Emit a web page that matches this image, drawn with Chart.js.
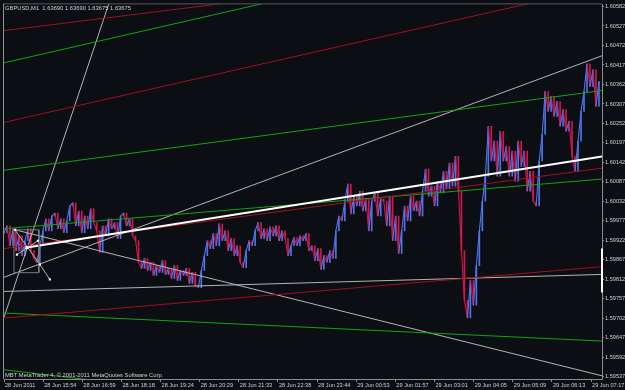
<!DOCTYPE html>
<html><head><meta charset="utf-8">
<script src="https://cdn.jsdelivr.net/npm/chart.js@4/dist/chart.umd.min.js"></script>
<style>html,body{margin:0;padding:0;background:#0b0e13;}canvas{display:block;}</style>
</head><body>
<canvas id="c" width="625" height="390"></canvas>
<script>
const symbolTitle = 'GBPUSD,M1  1.63690 1.63690 1.63675 1.63675';
const footerText = 'MBT MetaTrader 4, \u00A9 2001-2011 MetaQuotes Software Corp.';
const timeLabels = ['28 Jun 2011','28 Jun 15:54','28 Jun 16:59','28 Jun 18:18','28 Jun 19:24','28 Jun 20:29','28 Jun 21:33','28 Jun 22:38','28 Jun 23:44','29 Jun 00:53','29 Jun 01:57','29 Jun 03:01','29 Jun 04:05','29 Jun 05:09','29 Jun 06:13','29 Jun 07:17'];
const priceTicks = [1.59537,1.59592,1.59647,1.59702,1.59757,1.59812,1.59867,1.59922,1.59977,1.60032,1.60087,1.60142,1.60197,1.60252,1.60307,1.60362,1.60417,1.60472,1.60527,1.60582];
const X_MAX = 15.28;
const PRICE_MIN = 1.59531, PRICE_MAX = 1.60588;
const barsPerLabel = 13.09;
const closes = [
1.59944,1.59963,1.59907,1.59955,1.59893,1.59935,1.59879,1.59921,1.59955,1.59893,
1.59871,1.59860,1.59907,1.59949,1.59983,1.59949,1.59991,1.59999,1.59955,1.59983,
1.59944,1.59977,1.60019,1.60028,1.59963,1.60005,1.59944,1.59991,1.59955,1.60011,
1.59972,1.59949,1.59888,1.59963,1.59935,1.59983,1.59955,1.59972,1.59927,1.59991,
1.59999,1.59963,1.59983,1.59935,1.59921,1.59860,1.59843,1.59871,1.59837,1.59860,
1.59823,1.59851,1.59832,1.59865,1.59826,1.59843,1.59815,1.59851,1.59809,1.59837,
1.59823,1.59843,1.59801,1.59832,1.59795,1.59789,1.59837,1.59879,1.59921,1.59899,
1.59941,1.59907,1.59969,1.59921,1.59949,1.59893,1.59927,1.59879,1.59907,1.59860,
1.59845,1.59893,1.59921,1.59907,1.59949,1.59972,1.59927,1.59955,1.59921,1.59960,
1.59935,1.59963,1.59921,1.59949,1.59927,1.59879,1.59907,1.59930,1.59907,1.59935,
1.59921,1.59941,1.59893,1.59907,1.59865,1.59899,1.59840,1.59879,1.59860,1.59893,
1.59871,1.59949,1.59991,1.59977,1.60033,1.60081,1.59997,1.60047,1.60019,1.60061,
1.60005,1.60039,1.59949,1.60033,1.60056,1.59991,1.60039,1.60033,1.59963,1.60047,
1.59921,1.59991,1.59885,1.59949,1.60019,1.59977,1.60047,1.60005,1.60033,1.59991,
1.60061,1.60123,1.60047,1.60075,1.60019,1.60089,1.60056,1.60117,1.60067,1.60140,
1.60075,1.60159,1.60061,1.59893,1.59753,1.59703,1.59809,1.59739,1.59851,1.59949,
1.60033,1.60103,1.60244,1.60146,1.60202,1.60103,1.60230,1.60146,1.60187,1.60103,
1.60174,1.60089,1.60202,1.60131,1.60174,1.60061,1.60117,1.60033,1.60019,1.60146,
1.60221,1.60342,1.60286,1.60328,1.60272,1.60314,1.60244,1.60291,1.60230,1.60258,
1.60159,1.60117,1.60202,1.60286,1.60342,1.60420,1.60356,1.60403,1.60300,1.60370
];
const redLines = [
  [[0,1.60514],[6,1.60596]],
  [[0,1.60255],[14,1.60605]],
  [[0,1.59899],[X_MAX,1.60126]],
  [[0,1.59703],[X_MAX,1.59848]]
];
const greenLines = [
  [[0,1.60423],[7,1.60600]],
  [[0,1.60120],[X_MAX,1.60345]],
  [[0,1.59955],[X_MAX,1.60095]],
  [[0,1.59717],[X_MAX,1.59638]],
  [[0,1.59557],[3,1.59518]]
];
const grayLines = [
  [[0,1.59705],[2.8,1.60630]],
  [[0,1.59818],[X_MAX,1.60443]],
  [[0.28,1.59952],[X_MAX,1.59540]],
  [[0,1.59778],[X_MAX,1.59826]]
];
const whiteLine = [[0.586,1.59902],[X_MAX,1.60159]];
const toolBox = [[0.255,1.59952],[0.891,1.59952],[0.891,1.59831],[0.255,1.59831],[0.255,1.59952]];
const toolLinks = [
  [[0.28,1.59952],[0.917,1.59854]],
  [[0.917,1.59854],[1.171,1.59812]],
  [[0.331,1.59882],[0.866,1.59921]]
];
const toolPoints = [[0.28,1.59952],[0.866,1.59921],[0.331,1.59882],[0.917,1.59854],[1.171,1.59812]];
const anchorPoint = [[0.586,1.59902]];
const scaleMarker = [[X_MAX,1.59899],[X_MAX,1.59775]];

const UP = '#4f74ea', DOWN = '#d0184a';
const RED = '#a3101f', GREEN = '#10a414', GRAY = '#b4b4b4';
const TEXT = '#d0d0d0', AXIS = '#8c8c8c';
const FONT = 'Liberation Sans, Arial, sans-serif';

const priceData = closes.map((c, i) => ({x: i / barsPerLabel, y: c}));
const barData = closes.map((c, i) => ({x: i / barsPerLabel, y: [i ? closes[i - 1] : c - 0.00003, c]}));
const barColors = closes.map((c, i) => (i && c < closes[i - 1]) ? DOWN : UP);

function seg(pts, color, width, order) {
  return {type: 'line', data: pts.map(p => ({x: p[0], y: p[1]})), borderColor: color, borderWidth: width,
    pointRadius: 0, fill: false, tension: 0, clip: 0, order: order};
}
function dots(pts, size) {
  return {type: 'line', data: pts.map(p => ({x: p[0], y: p[1]})), showLine: false, pointStyle: 'rect',
    pointRadius: size, pointBackgroundColor: '#ffffff', pointBorderWidth: 0, clip: 0, order: 0};
}

const datasets = [
  {type: 'bar', data: barData, backgroundColor: barColors, barThickness: 1, borderWidth: 0, order: 11},
  {type: 'line', data: priceData, borderWidth: 1.1, pointRadius: 0, tension: 0, fill: false, clip: 0, order: 10,
   borderColor: UP,
   segment: {borderColor: ctx => ctx.p1.parsed.y < ctx.p0.parsed.y ? DOWN : UP}}
];
redLines.forEach(l => datasets.push(seg(l, RED, 1, 2)));
greenLines.forEach(l => datasets.push(seg(l, GREEN, 1, 2)));
grayLines.forEach(l => datasets.push(seg(l, GRAY, 1, 2)));
datasets.push(seg(toolBox, '#7a7a7a', 1, 1));
toolLinks.forEach(l => datasets.push(seg(l, GRAY, 1, 1)));
datasets.push(seg(whiteLine, '#ffffff', 2, 1));
datasets.push(dots(toolPoints, 1.5));
datasets.push(dots(anchorPoint, 2.2));
const marker = seg(scaleMarker, '#ffffff', 2, 0); marker.clip = false;
datasets.push(marker);

const decor = {
  id: 'decor',
  beforeDraw(chart) {
    const ctx = chart.ctx;
    ctx.save(); ctx.fillStyle = '#0b0e13'; ctx.fillRect(0, 0, chart.width, chart.height); ctx.restore();
  },
  afterDraw(chart) {
    const ctx = chart.ctx, a = chart.chartArea;
    ctx.save();
    ctx.strokeStyle = '#a0a0a0'; ctx.lineWidth = 1;
    ctx.setLineDash([1, 1]);
    ctx.beginPath(); ctx.moveTo(a.left - 0.5, a.top - 0.5); ctx.lineTo(a.right, a.top - 0.5); ctx.stroke();
    ctx.setLineDash([]);
    ctx.strokeStyle = '#909090';
    ctx.beginPath(); ctx.moveTo(a.left - 0.5, a.top - 0.5); ctx.lineTo(a.left - 0.5, a.bottom); ctx.stroke();
    ctx.fillStyle = TEXT; ctx.font = '5.8px ' + FONT; ctx.textBaseline = 'middle'; ctx.textAlign = 'left';
    ctx.fillText(symbolTitle, a.left + 1, a.top + 4);
    ctx.fillText(footerText, a.left + 1, a.bottom - 4);
    ctx.restore();
  }
};

new Chart(document.getElementById('c'), {
  type: 'line',
  data: {datasets},
  options: {
    responsive: false, animation: false, events: [],
    layout: {padding: {left: 2, top: 2, right: 0, bottom: 0}},
    plugins: {legend: {display: false}, tooltip: {enabled: false}},
    scales: {
      x: {
        type: 'linear', min: 0, max: X_MAX, offset: false,
        afterBuildTicks: s => { s.ticks = timeLabels.map((t, i) => ({value: i})); },
        afterFit: s => { s.height = 11; },
        grid: {drawOnChartArea: false, drawTicks: true, tickLength: 3, color: AXIS, offset: false},
        border: {color: AXIS, width: 1},
        ticks: {autoSkip: false, maxRotation: 0, minRotation: 0, align: 'start', labelOffset: 1, padding: 0,
          color: TEXT, font: {family: FONT, size: 5.6}, callback: (v, i) => timeLabels[i]}
      },
      y: {
        type: 'linear', position: 'right', min: PRICE_MIN, max: PRICE_MAX,
        afterBuildTicks: s => { s.ticks = priceTicks.map(v => ({value: v})); },
        afterFit: s => { s.width = 23; },
        grid: {drawOnChartArea: false, drawTicks: true, tickLength: 2, color: AXIS},
        border: {color: AXIS, width: 1},
        ticks: {autoSkip: false, crossAlign: 'near', padding: 1, color: TEXT, font: {family: FONT, size: 5.6},
          callback: v => v.toFixed(5)}
      }
    }
  },
  plugins: [decor]
});
</script>
</body></html>
